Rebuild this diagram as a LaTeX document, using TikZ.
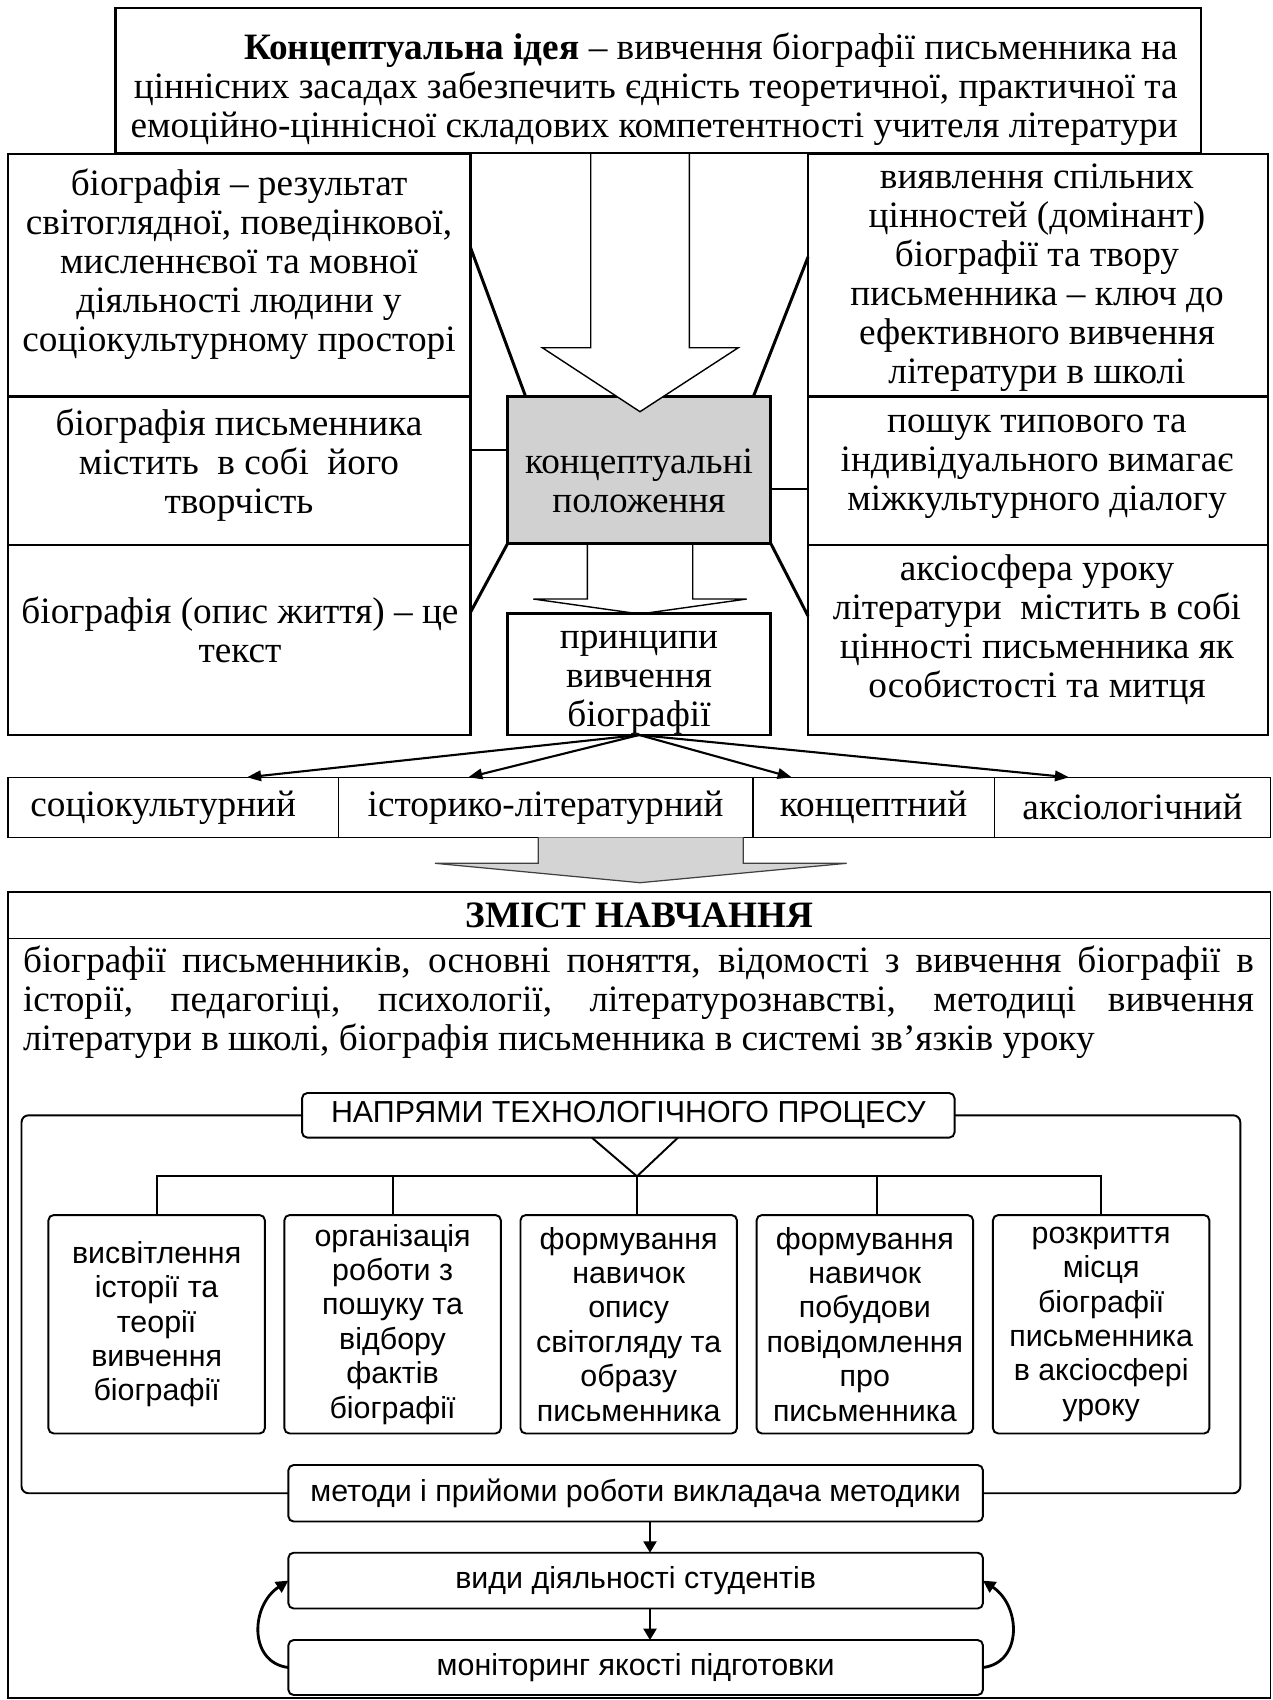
\documentclass[tikz,border=0pt]{standalone}
\usepackage{fontspec}
\setmainfont{Liberation Serif}
\setsansfont{Liberation Sans}
\usetikzlibrary{arrows.meta}

\newcommand\srf{\fontsize{21.2pt}{22.2pt}\selectfont}
\newcommand\snf{\sffamily\fontsize{17.3pt}{19.6pt}\selectfont}

\tikzset{
  heavybox/.style={draw, line width=1.5pt, inner sep=0pt, outer sep=0pt},
  cellbox/.style={draw, line width=0.9pt, inner sep=0pt, outer sep=0pt, font=\srf},
  serifnote/.style={inner sep=0pt, align=center, font=\srf},
  heavylink/.style={line width=1.7pt},
  blockarrow/.style={draw, line width=0.8pt, fill=white, line join=miter},
  grayarrow/.style={draw=black!75, line width=0.7pt, fill=black!17},
  sanbox/.style={draw, line width=1.1pt, rounded corners=3pt, fill=white,
    inner sep=0pt, outer sep=0pt, align=center, font=\snf},
  treeline/.style={line width=1.1pt},
  plink/.style={line width=1.2pt, -{Triangle[length=8pt,width=6pt]}},
  downlink/.style={line width=1.1pt, -{Triangle[length=6.5pt,width=7.5pt]}},
  looplink/.style={line width=1.6pt, -{Triangle[length=7pt,width=7pt]}},
}

\begin{document}
\begin{tikzpicture}[x=0.02cm, y=-0.02cm]
\useasboundingbox (0,0) rectangle (1273,1700);

% central grey box with the big block arrow above it
\node[heavybox, fill=black!18, minimum width=5.26cm, minimum height=2.932cm] (concept) at (639.2,470) {};
\path[blockarrow] (590.7,153) -- (590.7,347.7) -- (542.3,347.7) -- (640,411.7)
  -- (738.3,347.7) -- (689.3,347.7) -- (689.3,153);
\node[serifnote] (concepttext) at (639,481) {концептуальні\\положення};

% top statement
\node[heavybox, minimum width=21.71cm, minimum height=2.9cm] (idea) at (658.25,80.5) {};
\node[serifnote, align=right, anchor=east] (ideatext) at (1178,89)
  {\textbf{Концептуальна ідея} – вивчення біографії письменника на\\
   ціннісних засадах забезпечить єдність теоретичної, практичної та\\
   емоційно-ціннісної складових компетентності учителя літератури};

% left column
\node[heavybox, minimum width=9.254cm, minimum height=4.854cm] (l1) at (239.35,275.35) {};
\node[heavybox, minimum width=9.254cm, minimum height=2.966cm] (l2) at (239.35,470.85) {};
\node[heavybox, minimum width=9.254cm, minimum height=3.8cm] (l3) at (239.35,640) {};
\node[serifnote] (l1text) at (239,264) {біографія – результат\\світоглядної, поведінкової,\\мисленнєвої та мовної\\діяльності людини у\\соціокультурному просторі};
\node[serifnote] (l2text) at (239,465) {біографія письменника\\містить~ в собі~ його\\творчість};
\node[serifnote] (l3text) at (240,630) {біографія (опис життя) – це\\текст};

% right column
\node[heavybox, minimum width=9.2cm, minimum height=4.854cm] (r1) at (1038,275.35) {};
\node[heavybox, minimum width=9.2cm, minimum height=2.966cm] (r2) at (1038,470.85) {};
\node[heavybox, minimum width=9.2cm, minimum height=3.8cm] (r3) at (1038,640) {};
\node[serifnote] (r1text) at (1037,278) {виявлення спільних\\цінностей (домінант)\\біографії та твору\\письменника – ключ до\\ефективного вивчення\\літератури в школі};
\node[serifnote] (r2text) at (1037,467) {пошук типового та\\індивідуального вимагає\\міжкультурного діалогу};
\node[serifnote] (r3text) at (1037,630) {аксіосфера уроку\\літератури~ містить в собі\hspace*{0.96cm}\\цінності письменника як\\особистості та митця};

% principles box and the small block arrow
\path[blockarrow] (587.3,545) -- (587.3,599) -- (533.3,599) -- (640,614)
  -- (746.7,599) -- (692.7,599) -- (692.7,545);
\node[heavybox, minimum width=5.26cm, minimum height=2.434cm] (princ) at (639.2,674.15) {};
\node[serifnote] (princtext) at (639,683) {принципи\\вивчення\\біографії};

% links between the columns and the grey box
\draw[heavylink] (l1.east |- 0,248) -- (525.7,0 |- concept.north);
\draw[heavylink] (l2.east |- 0,450) -- (concept.west |- 0,450);
\draw[heavylink] (concept.south west) -- (l3.east |- 0,612);
\draw[heavylink] (r1.west |- 0,257) -- (753.3,0 |- concept.north);
\draw[heavylink] (concept.east |- 0,489) -- (r2.west |- 0,489);
\draw[heavylink] (concept.south east) -- (r3.west |- 0,616);

% row of principles
\node[cellbox, minimum width=6.61cm, minimum height=1.2cm] (c1) at (173.25,807.3) {соціокультурний\hspace*{0.4cm}};
\node[cellbox, minimum width=8.284cm, minimum height=1.2cm] (c2) at (545.6,807.3) {історико-літературний};
\node[cellbox, minimum width=4.836cm, minimum height=1.2cm] (c3) at (873.6,807.3) {концептний};
\node[cellbox, minimum width=5.52cm, minimum height=1.2cm] (c4) at (1132.5,807.3) {аксіологічний};
\draw[plink] (princ.south) -- (247,0 |- c1.north);
\draw[plink] (princ.south) -- (468.3,0 |- c2.north);
\draw[plink] (princ.south) -- (791.7,0 |- c3.north);
\draw[plink] (princ.south) -- (1069,0 |- c4.north);

% grey arrow down to the content block
\path[grayarrow] (538.3,837.3) -- (538.3,863.3) -- (435,863.3) -- (640,882.7)
  -- (846.7,863.3) -- (743.3,863.3) -- (743.3,837.3);

% content block
\node[cellbox, minimum width=25.25cm, minimum height=16.126cm] (content) at (639.25,1294.85) {};
\draw[line width=0.9pt] (content.west |- 0,938.3) -- (content.east |- 0,938.3);
\node[serifnote, font=\srf\bfseries] (contenthead) at (639.5,915) {ЗМІСТ НАВЧАННЯ};
\node[inner sep=0pt, align=left, font=\srf] (contentbody) at (638.5,1002)
  {\makebox[24.62cm][s]{біографії письменників, основні поняття, відомості з вивчення біографії в}\\
   \makebox[24.62cm][s]{історії, педагогіці, психології, літературознавстві, методиці вивчення}\\
   літератури в школі, біографія письменника в системі зв’язків уроку};

% technological process
\node[sanbox, minimum width=13.052cm, minimum height=0.892cm] (dirs) at (628.3,1115.3) {НАПРЯМИ ТЕХНОЛОГІЧНОГО ПРОЦЕСУ};
\node[sanbox, minimum width=4.33cm, minimum height=4.37cm] (t1) at (156.65,1324.25) {висвітлення\\історії та\\теорії\\вивчення\\біографії};
\node[sanbox, minimum width=4.33cm, minimum height=4.37cm] (t2) at (392.6,1324.25) {організація\\роботи з\\пошуку та\\відбору\\фактів\\біографії};
\node[sanbox, minimum width=4.33cm, minimum height=4.37cm] (t3) at (628.7,1324.25) {формування\\навичок\\опису\\світогляду та\\образу\\письменника};
\node[sanbox, minimum width=4.33cm, minimum height=4.37cm] (t4) at (864.85,1324.25) {формування\\навичок\\побудови\\повідомлення\\про\\письменника};
\node[sanbox, minimum width=4.33cm, minimum height=4.37cm] (t5) at (1101.15,1324.25) {розкриття\\місця\\біографії\\письменника\\в аксіосфері\\уроку};
\node[sanbox, minimum width=13.894cm, minimum height=1.13cm] (methods) at (635.65,1493.25) {методи і прийоми роботи викладача методики};
\node[sanbox, minimum width=13.894cm, minimum height=1.116cm] (activity) at (635.65,1580.6) {види діяльності студентів};
\node[sanbox, minimum width=13.894cm, minimum height=1.1cm] (monitor) at (635.65,1667.5) {моніторинг якості підготовки};

% frame joining the directions box and the methods box
\coordinate (frameL) at (21.5,1300);
\coordinate (frameR) at (1240.3,1300);
\draw[treeline, rounded corners=4pt] (dirs.west) -| (frameL) |- (methods.west);
\draw[treeline, rounded corners=4pt] (dirs.east) -| (frameR) |- (methods.east);

% tree of directions
\coordinate (hub) at (637,1176.3);
\draw[treeline] (591.8,0 |- dirs.south) -- (hub) -- (678,0 |- dirs.south);
\draw[treeline] (t1.north) -- (t1.north |- hub) -- (t5.north |- hub) -- (t5.north);
\draw[treeline] (t2.north) -- (t2.north |- hub);
\draw[treeline] (hub) -- (hub |- t3.north);
\draw[treeline] (876.7,0 |- hub) -- (876.7,0 |- t4.north);

% sequence and feedback loops
\draw[downlink] (650,0 |- methods.south) -- (650,0 |- activity.north);
\draw[downlink] (650,0 |- activity.south) -- (650,0 |- monitor.north);
\draw[looplink] (monitor.west) .. controls +(-40,-5) and +(-38,25) .. (activity.west);
\draw[looplink] (monitor.east) .. controls +(40,-5) and +(38,25) .. (activity.east);
\end{tikzpicture}
\end{document}
